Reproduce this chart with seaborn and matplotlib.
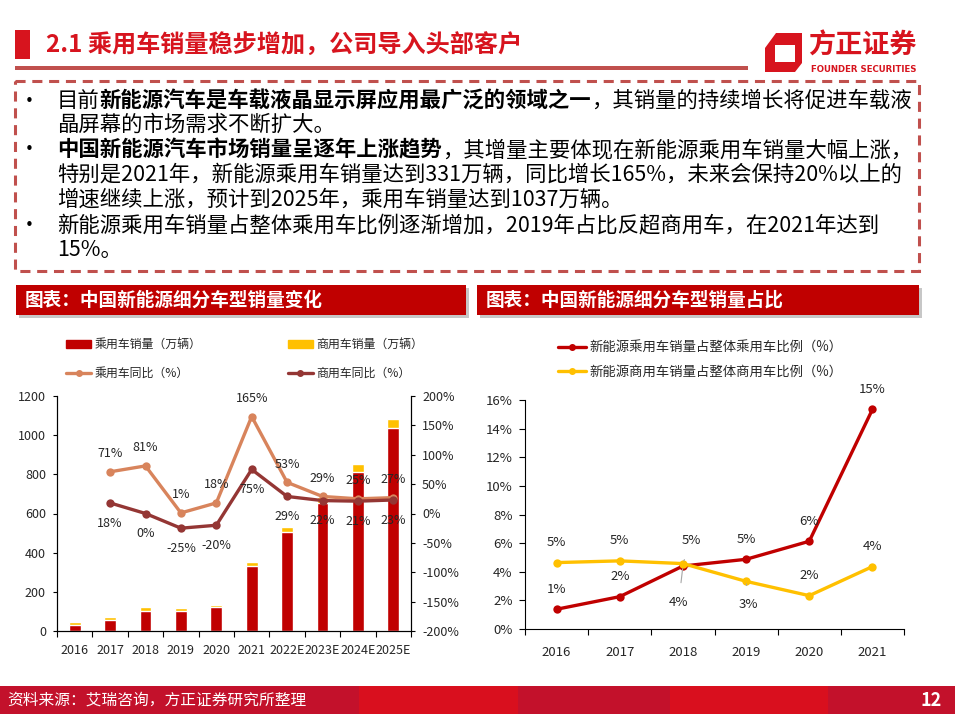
import numpy as np
import pandas as pd
import seaborn as sns
import matplotlib.pyplot as plt
from matplotlib.patches import Rectangle, Polygon, Patch
from matplotlib.lines import Line2D
from matplotlib.ticker import FuncFormatter

# ---- data ----
years = ['2016', '2017', '2018', '2019', '2020', '2021', '2022E', '2023E', '2024E', '2025E']
pv_sales = [31, 58, 104, 104, 123, 331, 506, 653, 814, 1037]   # 乘用车销量（万辆）
cv_sales = [13, 14, 19, 13, 10, 20, 25, 30, 39, 46]            # 商用车销量（万辆）
yoy_years = years[1:]
pv_yoy = [71, 81, 1, 18, 165, 53, 29, 25, 27]                  # 乘用车同比（%）
cv_yoy = [18, 0, -25, -20, 75, 29, 22, 21, 23]                 # 商用车同比（%）

share_years = ['2016', '2017', '2018', '2019', '2020', '2021']
pv_share = [1.38, 2.26, 4.40, 4.87, 6.13, 15.34]
cv_share = [4.64, 4.76, 4.57, 3.33, 2.33, 4.36]

RED = '#C00000'
YELLOW = '#FFC000'
ORANGE = '#D8845C'
DARK = '#943634'
TITLE_RED = '#D7141E'
BOX_RED = '#C0504D'

sns.set_theme(style='ticks')
plt.rcParams['font.family'] = ['Noto Sans CJK SC', 'DejaVu Sans']
plt.rcParams['axes.unicode_minus'] = False

W, H = 955, 714
fig = plt.figure(figsize=(W / 100, H / 100), dpi=100)
fig.patch.set_facecolor('white')

bg = fig.add_axes([0, 0, 1, 1])
bg.set_xlim(0, W)
bg.set_ylim(H, 0)
bg.axis('off')
bg.set_zorder(0)


def px_axes(x0, y0, x1, y1):
    a = fig.add_axes([x0 / W, 1 - y1 / H, (x1 - x0) / W, (y1 - y0) / H])
    a.set_zorder(2)
    a.patch.set_alpha(0)
    return a


# ---- header ----
bg.add_patch(Rectangle((15, 30), 15, 29, color=TITLE_RED, lw=0))
bg.text(46, 46, '2.1 乘用车销量稳步增加，公司导入头部客户', fontsize=17.4,
        weight='bold', color=TITLE_RED, va='center', ha='left')
bg.add_patch(Rectangle((15, 66), 733, 4, color=BOX_RED, lw=0))

# logo
bg.add_patch(Polygon([(776, 33), (802, 33), (802, 63), (795, 72), (765, 72), (765, 48)],
                     closed=True, color=TITLE_RED, lw=0))
bg.add_patch(Polygon([(775, 45), (795, 45), (795, 62), (775, 62)],
                     closed=True, color='white', lw=0))
bg.text(808, 46, '方正证券', fontsize=19.5, weight='bold', color=TITLE_RED, va='center', ha='left')
bg.text(864, 69.5, 'FOUNDER SECURITIES', fontsize=6.2, weight='bold', color=TITLE_RED,
        va='center', ha='center', family='DejaVu Sans')

# ---- dashed text box ----
bg.add_patch(Rectangle((15, 81), 904, 190, fill=False, edgecolor=BOX_RED, lw=2.2,
                       linestyle=(0, (3.3, 2.2))))

renderer = fig.canvas.get_renderer()


def rich_line(x, y, segs, size=15.4):
    for s, bold in segs:
        t = bg.text(x, y, s, fontsize=size, weight='bold' if bold else 'normal',
                    color='black', va='center', ha='left')
        x += t.get_window_extent(renderer=renderer).width


lines = [
    [('目前', False), ('新能源汽车是车载液晶显示屏应用最广泛的领域之一', True), ('，其销量的持续增长将促进车载液', False)],
    [('晶屏幕的市场需求不断扩大。', False)],
    [('中国新能源汽车市场销量呈逐年上涨趋势', True), ('，其增量主要体现在新能源乘用车销量大幅上涨，', False)],
    [('特别是2021年，新能源乘用车销量达到331万辆，同比增长165%，未来会保持20%以上的', False)],
    [('增速继续上涨，预计到2025年，乘用车销量达到1037万辆。', False)],
    [('新能源乘用车销量占整体乘用车比例逐渐增加，2019年占比反超商用车，在2021年达到', False)],
    [('15%。', False)],
]
line_y = [101, 125, 150, 175, 200, 225, 250]
for i, (segs, y) in enumerate(zip(lines, line_y)):
    rich_line(57, y, segs)
    if i in (0, 2, 5):
        bg.text(29, y, '•', fontsize=11, color='black', va='center', ha='center',
                family='DejaVu Sans')

# ---- section headers ----
for x0, w, title in [(16, 450, '图表：中国新能源细分车型销量变化'),
                     (477, 442, '图表：中国新能源细分车型销量占比')]:
    bg.add_patch(Rectangle((x0 + 3, 288), w, 30, color='#9A9A9A', alpha=0.55, lw=0))
    bg.add_patch(Rectangle((x0, 285), w, 30, color=RED, lw=0))
    bg.text(x0 + 9, 300, title, fontsize=13.4, weight='bold', color='white', va='center', ha='left')

# ---- footer ----
for x0, x1, c in [(0, 359, '#C3112B'), (359, 518, '#D90F1E'), (518, 670, '#C3112B'),
                  (670, 828, '#D90F1E'), (828, 955, '#C3112B')]:
    bg.add_patch(Rectangle((x0, 686), x1 - x0, 28, color=c, lw=0))
bg.text(7, 700, '资料来源：艾瑞咨询，方正证券研究所整理', fontsize=11.3, color='white',
        va='center', ha='left')
bg.text(931, 700, '12', fontsize=13, weight='bold', color='white', va='center', ha='center')

# ---- left chart: stacked bars + yoy lines ----
df = pd.DataFrame({'year': years, 'pv': pv_sales, 'cv': cv_sales})
df['total'] = df['pv'] + df['cv']

ax1 = px_axes(57, 396, 411, 631)
sns.barplot(data=df, x='year', y='total', color=YELLOW, saturation=1, width=0.33, ax=ax1)
sns.barplot(data=df, x='year', y='pv', color=RED, saturation=1, width=0.33, ax=ax1)
ax1.set_ylim(0, 1200)
ax1.set_yticks(range(0, 1201, 200))
ax1.set_xlabel('')
ax1.set_ylabel('')

ax2 = ax1.twinx()
ax2.patch.set_alpha(0)
xs = np.arange(1, 10)
sns.lineplot(x=xs, y=pv_yoy, ax=ax2, color=ORANGE, lw=2.4, marker='o', markersize=6,
             markeredgewidth=0)
sns.lineplot(x=xs, y=cv_yoy, ax=ax2, color=DARK, lw=2.4, marker='o', markersize=6,
             markeredgewidth=0)
ax2.set_ylim(-200, 200)
ax2.set_yticks(range(-200, 201, 50))
ax2.yaxis.set_major_formatter(FuncFormatter(lambda v, p: f'{v:.0f}%'))
ax2.set_ylabel('')

ax1.set_xlim(-0.5, 9.5)
ax1.set_xticks(range(10))
ax1.set_xticklabels(years)
ax1.set_xticks(np.arange(-0.5, 10, 1), minor=True)
ax1.tick_params(axis='x', which='major', length=0, pad=9, labelsize=9)
ax1.tick_params(axis='x', which='minor', length=4, width=0.8, color='black')
ax1.tick_params(axis='y', length=3, width=0.8, pad=5, labelsize=9, color='black')
ax2.tick_params(axis='y', length=3, width=0.8, pad=5, labelsize=9, color='black')
for a in (ax1, ax2):
    a.spines['top'].set_visible(False)
    for s in ('left', 'right', 'bottom'):
        a.spines[s].set_color('black')
        a.spines[s].set_linewidth(0.8)

for x, v in zip(xs, pv_yoy):
    ax2.annotate(f'{v}%', (x, v), xytext=(0, 13), textcoords='offset points',
                 ha='center', va='center', fontsize=9)
for x, v in zip(xs, cv_yoy):
    ax2.annotate(f'{v}%', (x, v), xytext=(0, -14.5), textcoords='offset points',
                 ha='center', va='center', fontsize=9)

fig.legend(handles=[Patch(color=RED), Line2D([], [], color=ORANGE, lw=2.4, marker='o', ms=4),
                    Patch(color=YELLOW), Line2D([], [], color=DARK, lw=2.4, marker='o', ms=4)],
           labels=['乘用车销量（万辆）', '乘用车同比（%）', '商用车销量（万辆）', '商用车同比（%）'],
           ncol=2, loc='upper left', bbox_to_anchor=(66 / W, 1 - 338 / H), frameon=False,
           fontsize=8.6, handlelength=2.1, handletextpad=0.3, columnspacing=7.2,
           labelspacing=1.35, borderpad=0, borderaxespad=0)

# ---- right chart: share lines ----
ax3 = px_axes(525, 400, 904, 629)
x6 = np.arange(len(share_years))
sns.lineplot(x=x6, y=pv_share, ax=ax3, color=RED, lw=2.4, marker='o', markersize=6,
             markeredgewidth=0)
sns.lineplot(x=x6, y=cv_share, ax=ax3, color=YELLOW, lw=2.4, marker='o', markersize=6,
             markeredgewidth=0)
ax3.set_ylim(0, 16)
ax3.set_yticks(range(0, 17, 2))
ax3.yaxis.set_major_formatter(FuncFormatter(lambda v, p: f'{v:.0f}%'))
ax3.set_xlim(-0.5, 5.5)
ax3.set_xticks(x6)
ax3.set_xticklabels(share_years)
ax3.set_xticks(np.arange(-0.5, 6, 1), minor=True)
ax3.tick_params(axis='x', which='major', length=0, pad=12, labelsize=9.5)
ax3.tick_params(axis='x', which='minor', length=4, width=0.8, color='black')
ax3.tick_params(axis='y', length=4, width=0.8, pad=5, labelsize=9.5, color='black')
ax3.set_xlabel('')
ax3.set_ylabel('')
for s in ('top', 'right'):
    ax3.spines[s].set_visible(False)
for s in ('left', 'bottom'):
    ax3.spines[s].set_color('black')
    ax3.spines[s].set_linewidth(0.8)

leader = dict(arrowstyle='-', color='#A6A6A6', lw=0.8, shrinkA=7, shrinkB=2)
pv_off = [(0, 14.4), (0, 14.4), (-3, -26), (0, 14.4), (0, 14.4), (0, 14.4)]
cv_off = [(0, 14.4), (0, 14.4), (6, 16.5), (2, -17), (0, 14.4), (0, 14.4)]
for i, (v, off) in enumerate(zip(pv_share, pv_off)):
    ax3.annotate(f'{v:.0f}%', (i, v), xytext=off, textcoords='offset points', ha='center',
                 va='center', fontsize=9.5, arrowprops=leader if i == 2 else None)
for i, (v, off) in enumerate(zip(cv_share, cv_off)):
    ax3.annotate(f'{v:.0f}%', (i, v), xytext=off, textcoords='offset points', ha='center',
                 va='center', fontsize=9.5, arrowprops=leader if i in (2, 3) else None)

fig.legend(handles=[Line2D([], [], color=RED, lw=2.4, marker='o', ms=4),
                    Line2D([], [], color=YELLOW, lw=2.4, marker='o', ms=4)],
           labels=['新能源乘用车销量占整体乘用车比例（%）', '新能源商用车销量占整体商用车比例（%）'],
           loc='upper left', bbox_to_anchor=(558 / W, 1 - 341 / H), frameon=False,
           fontsize=9.6, handlelength=2.1, handletextpad=0.25, labelspacing=0.75,
           borderpad=0, borderaxespad=0)

fig.savefig('out.png', dpi=100)
